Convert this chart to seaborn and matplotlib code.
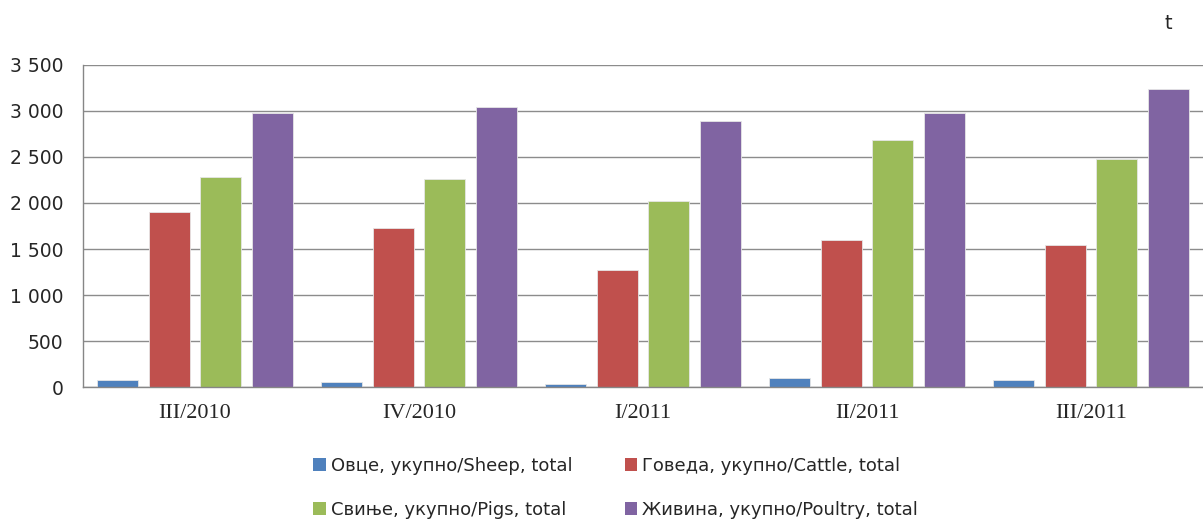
import matplotlib

matplotlib.use("Agg")

import matplotlib.pyplot as plt
import pandas as pd
import seaborn as sns
from matplotlib.patches import Patch
from matplotlib.ticker import FuncFormatter, MultipleLocator

periods = ["III/2010", "IV/2010", "I/2011", "II/2011", "III/2011"]
series_names = [
    "Овце, укупно/Sheep, total",
    "Говеда, укупно/Cattle, total",
    "Свиње, укупно/Pigs, total",
    "Живина, укупно/Poultry, total",
]
sheep = [72, 55, 35, 100, 80]
cattle = [1905, 1728, 1272, 1598, 1545]
pigs = [2283, 2262, 2022, 2688, 2478]
poultry = [2980, 3045, 2893, 2980, 3240]
colors = ["#4F81BD", "#C0504D", "#9BBB59", "#8064A2"]

frame = pd.DataFrame(
    {
        "period": periods * 4,
        "series": [name for name in series_names for _ in periods],
        "value": sheep + cattle + pigs + poultry,
    }
)

sns.set_style("white")
plt.rcParams["font.family"] = ["DejaVu Sans"]

fig = plt.figure(figsize=(12.03, 5.19), dpi=100)
ax = fig.add_axes([0.069, 0.2543, 0.931, 0.6205])

sns.barplot(
    data=frame,
    x="period",
    y="value",
    hue="series",
    order=periods,
    hue_order=series_names,
    palette=colors,
    width=0.92,
    gap=0.2,
    saturation=1,
    legend=False,
    edgecolor="#e6e6e6",
    linewidth=0.6,
    ax=ax,
)

ax.set_ylim(0, 3500)
ax.set_xlim(-0.5, len(periods) - 0.5)
ax.yaxis.set_major_locator(MultipleLocator(500))
ax.yaxis.set_major_formatter(FuncFormatter(lambda v, _: f"{v:,.0f}".replace(",", " ")))
ax.grid(axis="y", color="#8c8c8c", linewidth=1)
ax.set_axisbelow(True)
ax.set_xlabel("")
ax.set_ylabel("")

for side in ["top", "right"]:
    ax.spines[side].set_visible(False)
for side in ["left", "bottom"]:
    ax.spines[side].set_color("#868686")
    ax.spines[side].set_linewidth(1)

ax.tick_params(axis="y", length=0, labelsize=13.5, pad=14)
ax.tick_params(axis="x", length=0, labelsize=16, pad=12)
for label in ax.get_xticklabels():
    label.set_fontfamily("Liberation Serif")

fig.text(0.971, 0.955, "t", fontsize=14, ha="center", va="center")

# legend fills column-wise, so reorder to read row-wise like the original
legend_order = [0, 2, 1, 3]
handles = [Patch(facecolor=colors[i], edgecolor="none") for i in legend_order]
labels = [series_names[i] for i in legend_order]
fig.legend(
    handles,
    labels,
    ncol=2,
    loc="upper left",
    bbox_to_anchor=(0.253, 0.137),
    frameon=False,
    fontsize=13,
    handlelength=0.7,
    handleheight=0.7,
    handletextpad=0.25,
    columnspacing=2.9,
    labelspacing=1.45,
    borderpad=0,
)

fig.savefig("out.png", dpi=100)
